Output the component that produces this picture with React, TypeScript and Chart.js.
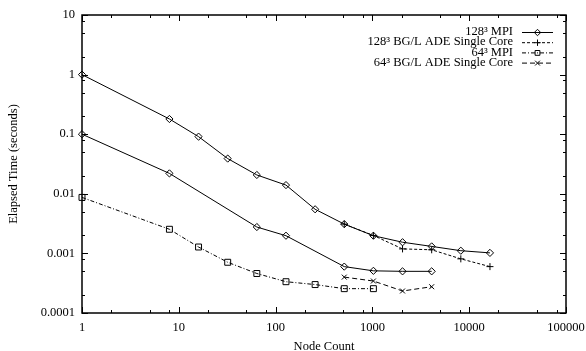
import React, { useEffect, useRef } from 'react';
import { Chart, registerables } from 'chart.js';

Chart.register(...registerables);

// ---- data ----
const nodesMpi128 = [1, 8, 16, 32, 64, 128, 256, 512, 1024, 2048, 4096, 8192, 16384];
const timeMpi128 = [1.0, 0.18, 0.091, 0.039, 0.0207, 0.014, 0.0055, 0.0031, 0.00198, 0.00154, 0.00131, 0.00111, 0.00102];

const nodesAde128 = [512, 1024, 2048, 4096, 8192, 16384];
const timeAde128 = [0.0031, 0.002, 0.00119, 0.00115, 0.00081, 0.0006];

const nodesMpi128b = [1, 8, 64, 128, 512, 1024, 2048, 4096];
const timeMpi128b = [0.1, 0.022, 0.00277, 0.00198, 0.0006, 0.00051, 0.0005, 0.0005];

const nodesMpi64 = [1, 8, 16, 32, 64, 128, 256, 512, 1024];
const timeMpi64 = [0.0087, 0.00254, 0.00128, 0.00071, 0.00046, 0.000335, 0.0003, 0.000256, 0.000256];

const nodesAde64 = [512, 1024, 2048, 4096];
const timeAde64 = [0.0004, 0.000344, 0.000234, 0.000276];

const xTickValues = [1, 10, 100, 1000, 10000, 100000];
const yTickValues = [0.0001, 0.001, 0.01, 0.1, 1, 10];
const minorSteps = [2, 5, 8];

const legendLabels = ['128³ MPI', '128³ BG/L ADE Single Core', '64³ MPI', '64³ BG/L ADE Single Core'];
const legendMarkers = ['diamond', 'plus', 'square', 'cross'];
const legendDashes: number[][] = [[], [3, 2], [4, 2, 1, 2], [5, 3]];

const xTitle = 'Node Count';
const yTitle = 'Elapsed Time (seconds)';

const FONT = '"Liberation Serif", "Times New Roman", serif';
const FSIZE = 12.5;

const toPts = (xs: number[], ys: number[]) => xs.map((x, i) => ({ x, y: ys[i] }));

function drawMarker(ctx: CanvasRenderingContext2D, kind: string, x: number, y: number, r: number) {
  ctx.beginPath();
  if (kind === 'diamond') {
    ctx.moveTo(x, y - r);
    ctx.lineTo(x + r, y);
    ctx.lineTo(x, y + r);
    ctx.lineTo(x - r, y);
    ctx.closePath();
  } else if (kind === 'plus') {
    ctx.moveTo(x - r, y);
    ctx.lineTo(x + r, y);
    ctx.moveTo(x, y - r);
    ctx.lineTo(x, y + r);
  } else if (kind === 'square') {
    const s = r * 0.75;
    ctx.rect(x - s, y - s, 2 * s, 2 * s);
  } else {
    const s = r * 0.75;
    ctx.moveTo(x - s, y - s);
    ctx.lineTo(x + s, y + s);
    ctx.moveTo(x + s, y - s);
    ctx.lineTo(x - s, y + s);
  }
  ctx.stroke();
}

const framePlugin = {
  id: 'gnuFrame',
  afterDatasetsDraw(chart: any) {
    const ctx: CanvasRenderingContext2D = chart.ctx;
    const { left, right, top, bottom } = chart.chartArea;
    const xs = chart.scales.x;
    const ys = chart.scales.y;
    ctx.save();
    ctx.strokeStyle = '#000';
    ctx.lineWidth = 1;
    ctx.setLineDash([]);
    ctx.beginPath();
    for (let d = 0; d < xTickValues.length; d++) {
      const v = xTickValues[d];
      const px = Math.round(xs.getPixelForValue(v)) + 0.5;
      ctx.moveTo(px, bottom);
      ctx.lineTo(px, bottom - 6);
      ctx.moveTo(px, top);
      ctx.lineTo(px, top + 6);
      if (d < xTickValues.length - 1) {
        for (const m of minorSteps) {
          const mx = Math.round(xs.getPixelForValue(v * m)) + 0.5;
          ctx.moveTo(mx, bottom);
          ctx.lineTo(mx, bottom - 3);
          ctx.moveTo(mx, top);
          ctx.lineTo(mx, top + 3);
        }
      }
    }
    for (let d = 0; d < yTickValues.length; d++) {
      const v = yTickValues[d];
      const py = Math.round(ys.getPixelForValue(v)) + 0.5;
      ctx.moveTo(left, py);
      ctx.lineTo(left + 6, py);
      ctx.moveTo(right, py);
      ctx.lineTo(right - 6, py);
      if (d < yTickValues.length - 1) {
        for (const m of minorSteps) {
          const my = Math.round(ys.getPixelForValue(v * m)) + 0.5;
          ctx.moveTo(left, my);
          ctx.lineTo(left + 3, my);
          ctx.moveTo(right, my);
          ctx.lineTo(right - 3, my);
        }
      }
    }
    ctx.stroke();
    ctx.lineWidth = 1.5;
    ctx.strokeRect(left, top, right - left, bottom - top);

    // legend (gnuplot-style: text right-aligned, sample on the right)
    ctx.font = `${FSIZE}px ${FONT}`;
    ctx.fillStyle = '#000';
    ctx.textAlign = 'right';
    ctx.textBaseline = 'middle';
    const textRight = right - 53;
    const lineX0 = right - 44;
    const lineX1 = right - 13;
    for (let i = 0; i < legendLabels.length; i++) {
      const y = top + 17 + i * 10.2;
      ctx.fillText(legendLabels[i], textRight, y);
      ctx.lineWidth = 1;
      ctx.setLineDash(legendDashes[i]);
      ctx.beginPath();
      ctx.moveTo(lineX0, y + 0.5);
      ctx.lineTo(lineX1, y + 0.5);
      ctx.stroke();
      ctx.setLineDash([]);
      drawMarker(ctx, legendMarkers[i], (lineX0 + lineX1) / 2, y + 0.5, 3.2);
    }
    ctx.restore();
  },
};

export default function App() {
  const ref = useRef<HTMLCanvasElement | null>(null);
  useEffect(() => {
    if (!ref.current) return;
    const common = {
      borderColor: '#000',
      borderWidth: 1,
      pointBorderColor: '#000',
      pointBackgroundColor: 'rgba(255,255,255,0)',
      pointBorderWidth: 1,
      fill: false,
      tension: 0,
      clip: false as any,
    };
    const chart = new Chart(ref.current, {
      type: 'line',
      data: {
        datasets: [
          { ...common, label: legendLabels[0], data: toPts(nodesMpi128, timeMpi128), pointStyle: 'rectRot', pointRadius: 3.6 },
          { ...common, label: legendLabels[1], data: toPts(nodesAde128, timeAde128), borderDash: legendDashes[1], pointStyle: 'cross', pointRadius: 3.5 },
          { ...common, label: legendLabels[2], data: toPts(nodesMpi64, timeMpi64), borderDash: legendDashes[2], pointStyle: 'rect', pointRadius: 4.2 },
          { ...common, label: legendLabels[3], data: toPts(nodesAde64, timeAde64), borderDash: legendDashes[3], pointStyle: 'crossRot', pointRadius: 3.5 },
          { ...common, label: '', data: toPts(nodesMpi128b, timeMpi128b), pointStyle: 'rectRot', pointRadius: 3.6 },
        ],
      },
      options: {
        animation: false,
        responsive: false,
        maintainAspectRatio: false,
        layout: { padding: { left: 0, top: 15, right: 20, bottom: 0 } },
        plugins: { legend: { display: false }, tooltip: { enabled: false } },
        scales: {
          x: {
            type: 'logarithmic',
            min: 1,
            max: 100000,
            grid: { display: false, drawTicks: false, tickLength: 0 },
            border: { display: false },
            afterBuildTicks: (s: any) => { s.ticks = xTickValues.map((v) => ({ value: v })); },
            afterFit: (s: any) => { s.height = 38; s.paddingLeft = 0; s.paddingRight = 0; },
            ticks: {
              autoSkip: false,
              maxRotation: 0,
              padding: 7,
              color: '#000',
              font: { family: FONT, size: FSIZE },
              callback: (v: any) => String(v),
            },
            title: { display: true, text: xTitle, color: '#000', font: { family: FONT, size: FSIZE }, padding: { top: 0, bottom: -3 } },
          },
          y: {
            type: 'logarithmic',
            min: 0.0001,
            max: 10,
            grid: { display: false, drawTicks: false, tickLength: 0 },
            border: { display: false },
            afterBuildTicks: (s: any) => { s.ticks = yTickValues.map((v) => ({ value: v })); },
            afterFit: (s: any) => { s.width = 82; s.paddingTop = 0; s.paddingBottom = 0; },
            ticks: {
              autoSkip: false,
              padding: 7,
              color: '#000',
              font: { family: FONT, size: FSIZE },
              callback: (v: any) => String(v),
            },
            title: { display: true, text: yTitle, color: '#000', font: { family: FONT, size: FSIZE }, padding: { top: 6, bottom: 0 } },
          },
        },
      },
      plugins: [framePlugin],
    });
    return () => chart.destroy();
  }, []);
  return (
    <div style={{ position: 'absolute', left: 0, top: 0, width: 586, height: 351, background: '#fff' }}>
      <canvas ref={ref} width={586} height={351} />
    </div>
  );
}
